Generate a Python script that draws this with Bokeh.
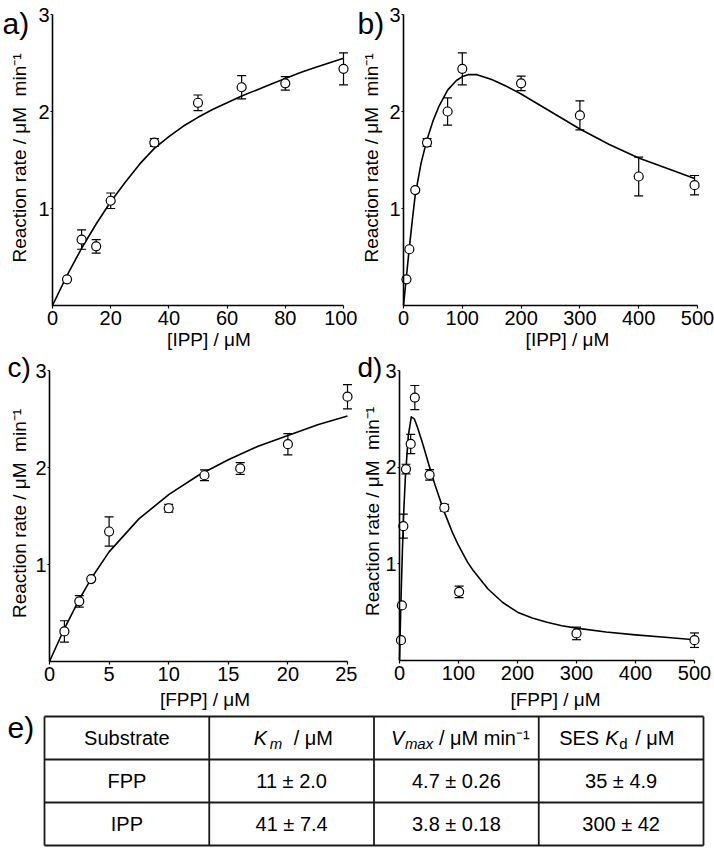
import math
from bokeh.plotting import figure
from bokeh.models import Range1d, FixedTicker, Label, Whisker, ColumnDataSource, TeeHead
from bokeh.layouts import column, row
from bokeh.embed import file_html
from bokeh.resources import INLINE
from bokeh.core.properties import value

# ---------------- data ----------------
# a) rate vs [IPP] (0-100 uM)
a_x = [5, 10, 15, 20, 35, 50, 65, 80, 100]
a_y = [0.27, 0.68, 0.61, 1.08, 1.68, 2.09, 2.25, 2.29, 2.44]
a_err = [0.0, 0.10, 0.07, 0.08, 0.04, 0.08, 0.12, 0.07, 0.165]
a_fit_x = [0, 5, 10, 15, 20, 25, 30, 35, 40, 45, 50, 55, 60, 65, 70, 75, 80, 85, 90, 95, 100]
a_fit_y = [0, 0.31, 0.59, 0.84, 1.07, 1.27, 1.46, 1.62, 1.74, 1.85, 1.94, 2.02, 2.09, 2.16,
           2.22, 2.28, 2.34, 2.40, 2.45, 2.50, 2.55]

# b) rate vs [IPP] (0-500 uM)
b_x = [5, 10, 20, 40, 75, 100, 200, 300, 400, 495]
b_y = [0.27, 0.58, 1.19, 1.68, 2.00, 2.44, 2.29, 1.96, 1.33, 1.24]
b_err = [0.0, 0.0, 0.0, 0.04, 0.14, 0.165, 0.075, 0.15, 0.20, 0.10]
b_fit_x = [0, 5, 10, 15, 20, 30, 40, 50, 60, 75, 90, 100, 110, 125, 150, 175, 200, 250, 300,
           350, 400, 450, 495]
b_fit_y = [0, 0.30, 0.60, 0.88, 1.14, 1.47, 1.71, 1.90, 2.05, 2.22, 2.32, 2.36, 2.38, 2.38,
           2.33, 2.26, 2.18, 2.00, 1.82, 1.66, 1.52, 1.41, 1.31]

# c) rate vs [FPP] (0-25 uM)
c_x = [1.25, 2.5, 3.5, 5, 10, 13, 16, 20, 25]
c_y = [0.31, 0.62, 0.85, 1.34, 1.58, 1.92, 1.99, 2.24, 2.73]
c_err = [0.11, 0.06, 0.0, 0.15, 0.04, 0.055, 0.06, 0.11, 0.125]
c_fit_x = [0, 1.25, 2.5, 3.5, 5, 7.5, 10, 12.5, 15, 17.5, 20, 22.5, 25]
c_fit_y = [0, 0.34, 0.64, 0.855, 1.13, 1.47, 1.72, 1.92, 2.08, 2.22, 2.33, 2.44, 2.53]

# d) rate vs [FPP] (0-500 uM)
d_x = [2.5, 4, 6.5, 11, 19, 26, 51, 76, 101, 300, 500]
d_y = [0.21, 0.57, 1.39, 1.98, 2.24, 2.72, 1.92, 1.58, 0.71, 0.28, 0.21]
d_err = [0.0, 0.0, 0.125, 0.05, 0.10, 0.125, 0.055, 0.035, 0.06, 0.065, 0.075]
d_fit_x = [0, 2.5, 5, 7.5, 10, 15, 20, 25, 30, 40, 50, 60, 75, 90, 100, 115, 125, 150, 175,
           200, 225, 250, 275, 300, 350, 400, 450, 500]
d_fit_y = [0, 0.62, 1.15, 1.58, 1.90, 2.33, 2.52, 2.50, 2.42, 2.23, 2.02, 1.82, 1.55, 1.32,
           1.19, 1.02, 0.93, 0.74, 0.60, 0.50, 0.44, 0.395, 0.36, 0.335, 0.295, 0.265, 0.24,
           0.215]

y_ticks = [1, 2, 3]
ipp_ticks_a = [0, 20, 40, 60, 80, 100]
ipp_ticks_b = [0, 100, 200, 300, 400, 500]
fpp_ticks_c = [0, 5, 10, 15, 20, 25]
fpp_ticks_d = [0, 100, 200, 300, 400, 500]

y_title = "Reaction rate / μM\u00a0 min⁻¹"

# e) table
substrates = ["FPP", "IPP"]
km_vals = ["11 ± 2.0", "41 ± 7.4"]
vmax_vals = ["4.7 ± 0.26", "3.8 ± 0.18"]
kd_vals = ["35 ± 4.9", "300 ± 42"]

FONT = "Liberation Sans"


def panel(fig_w, fig_h, fig_x0, fig_y0, ox, x_end_px, oy, y_top_px, xmax, xticks,
          xs, ys, errs, fx, fy, tag, tag_size, xtitle, lab_dx, lab_dy, yt_dx, yt_dy,
          xt_dx, xt_dy):
    # ox, oy: page position of the data origin; x_end_px: page x of xmax; y_top_px: page y of 3
    sx = (x_end_px - ox) / xmax
    sy = (oy - y_top_px) / 3.0
    xr = Range1d((fig_x0 - ox) / sx, (fig_x0 + fig_w - ox) / sx)
    yr = Range1d((oy - (fig_y0 + fig_h)) / sy, (oy - fig_y0) / sy)
    p = figure(width=fig_w, height=fig_h, title=None, x_range=xr, y_range=yr,
               output_backend="svg", toolbar_location=None,
               min_border_left=0, min_border_right=0, min_border_top=0, min_border_bottom=0)
    p.grid.visible = False
    p.outline_line_color = None
    p.background_fill_color = "white"
    p.border_fill_color = "white"

    xa = p.xaxis[0]
    xa.fixed_location = 0
    xa.bounds = (0, xmax)
    xa.ticker = FixedTicker(ticks=xticks)
    xa.major_tick_out = 3
    xa.major_tick_in = 0
    xa.minor_tick_line_color = None
    xa.major_label_standoff = 2
    xa.axis_line_width = 1.6
    xa.major_tick_line_width = 1.2
    xa.major_label_text_font = FONT
    xa.major_label_text_font_size = "20px"
    xa.major_label_text_color = "black"

    ya = p.yaxis[0]
    ya.fixed_location = 0
    ya.bounds = (0, 3)
    ya.ticker = FixedTicker(ticks=y_ticks)
    ya.major_tick_out = 2
    ya.major_tick_in = 0
    ya.minor_tick_line_color = None
    ya.major_label_standoff = 1
    ya.axis_line_width = 1.6
    ya.major_tick_line_width = 1.2
    ya.major_label_text_font = FONT
    ya.major_label_text_font_size = "20px"
    ya.major_label_text_color = "black"

    # error bars
    wb = [x for x, e in zip(xs, errs) if e > 0]
    wl = [y - e for y, e in zip(ys, errs) if e > 0]
    wu = [y + e for y, e in zip(ys, errs) if e > 0]
    wsrc = ColumnDataSource(dict(base=wb, lower=wl, upper=wu))
    w = Whisker(source=wsrc, base="base", lower="lower", upper="upper",
                line_color="black", line_width=1.2, level="underlay",
                upper_head=TeeHead(size=9, line_color="black", line_width=1.2),
                lower_head=TeeHead(size=9, line_color="black", line_width=1.2))
    p.add_layout(w)

    p.line(fx, fy, line_color="black", line_width=1.6, line_join="round")
    p.scatter(xs, ys, marker="circle", size=9, fill_color="white", line_color="black",
              line_width=1.2)

    p.add_layout(Label(x=0, y=3, text=tag, x_offset=lab_dx, y_offset=lab_dy,
                       text_font=FONT, text_font_size=tag_size, text_align="left",
                       text_baseline="middle", text_color="black"))
    p.add_layout(Label(x=0, y=1.5, text=y_title, x_offset=yt_dx, y_offset=yt_dy,
                       angle=math.pi / 2, text_font=FONT, text_font_size="19px",
                       text_align="center", text_baseline="middle", text_color="black"))
    p.add_layout(Label(x=xmax / 2, y=0, text=xtitle, x_offset=xt_dx, y_offset=xt_dy,
                       text_font=FONT, text_font_size="19px", text_align="center",
                       text_baseline="middle", text_color="black"))
    return p


TOP_H = 350
BOT_H = 361
fa = panel(357, TOP_H, 0, 0, 52, 343, 305, 14, 100, ipp_ticks_a, a_x, a_y, a_err,
           a_fit_x, a_fit_y, "a)", "30px", "[IPP] / μM", -50, -9, -33, 2, 11, -34)
fb = panel(357, TOP_H, 357, 0, 403, 697, 305, 14, 500, ipp_ticks_b, b_x, b_y, b_err,
           b_fit_x, b_fit_y, "b)", "30px", "[IPP] / μM", -46, -9, -32, 2, 17, -34)
fc = panel(357, BOT_H, 0, TOP_H, 49, 347, 661, 370, 25, fpp_ticks_c, c_x, c_y, c_err,
           c_fit_x, c_fit_y, "c)", "28px", "[FPP] / μM", -42, 3, -30, 2.5, 6.5, -37.5)
fd = panel(357, BOT_H, 357, TOP_H, 399, 694, 660, 370, 500, fpp_ticks_d, d_x, d_y, d_err,
           d_fit_x, d_fit_y, "d)", "28px", "[FPP] / μM", -42, 3, -27.5, 4, 8.5, -38.5)

# ---------------- table ----------------
ncols, nrows = 4, 3
T_X0, T_X1, T_Y0, T_Y1 = 44, 703, 716, 845      # page px of table border
FIG_Y0, FIG_H, FIG_W = TOP_H + BOT_H, 142, 714
col_px = (T_X1 - T_X0) / ncols
row_px = (T_Y1 - T_Y0) / nrows
ft = figure(width=FIG_W, height=FIG_H, title=None,
            x_range=Range1d(-T_X0 / col_px, (FIG_W - T_X0) / col_px),
            y_range=Range1d(-(FIG_Y0 + FIG_H - T_Y1) / row_px, nrows + (T_Y0 - FIG_Y0) / row_px),
            output_backend="svg", toolbar_location=None,
            min_border_left=0, min_border_right=0, min_border_top=0, min_border_bottom=0)
ft.grid.visible = False
ft.outline_line_color = None
ft.xaxis.visible = False
ft.yaxis.visible = False

vx = list(range(ncols + 1))
ft.segment(x0=vx, y0=[0] * len(vx), x1=vx, y1=[nrows] * len(vx), line_color="#1a1a1a",
           line_width=1.8)
hy = list(range(nrows + 1))
ft.segment(x0=[0] * len(hy), y0=hy, x1=[ncols] * len(hy), y1=hy, line_color="#1a1a1a",
           line_width=1.8)

body_y = [nrows - 1.5 - i for i in range(len(substrates))]
for ci, vals in enumerate([substrates, km_vals, vmax_vals, kd_vals]):
    ft.text(x=[ci + 0.5] * len(vals), y=body_y, text=vals, text_font=value(FONT),
            text_font_size="20px", text_align="center", text_baseline="middle",
            text_color="black")

# header pieces: (column, text, x offset px, subscript?, style, align)
hy_c = nrows - 0.5
header = [
    (0, "Substrate", 0, False, "normal", "center"),
    (1, "K", -38, False, "italic", "left"),
    (1, "m", -22, True, "italic", "left"),
    (1, "/ μM", 2, False, "normal", "left"),
    (2, "V", -65.5, False, "italic", "left"),
    (2, "max", -51.5, True, "italic", "left"),
    (2, "/ μM  min⁻¹", -17.5, False, "normal", "left"),
    (3, "SES", -62, False, "normal", "left"),
    (3, "K", -16, False, "italic", "left"),
    (3, "d", -2, True, "normal", "left"),
    (3, "/ μM", 14, False, "normal", "left"),
]
for ci, t, dx, sub, style, align in header:
    ft.text(x=[ci + 0.5], y=[hy_c], text=[t], x_offset=dx, y_offset=5 if sub else 0,
            text_font=value(FONT), text_font_size="15px" if sub else "20px",
            text_font_style=style, text_align=align, text_baseline="middle",
            text_color="black")

ft.add_layout(Label(x=0, y=nrows, text="e)", x_offset=-37, y_offset=-11, text_font=FONT,
                    text_font_size="30px", text_align="left", text_baseline="middle",
                    text_color="black"))

layout = column(row(fa, fb), row(fc, fd), ft)
open("out.html", "w").write(file_html(layout, INLINE))
